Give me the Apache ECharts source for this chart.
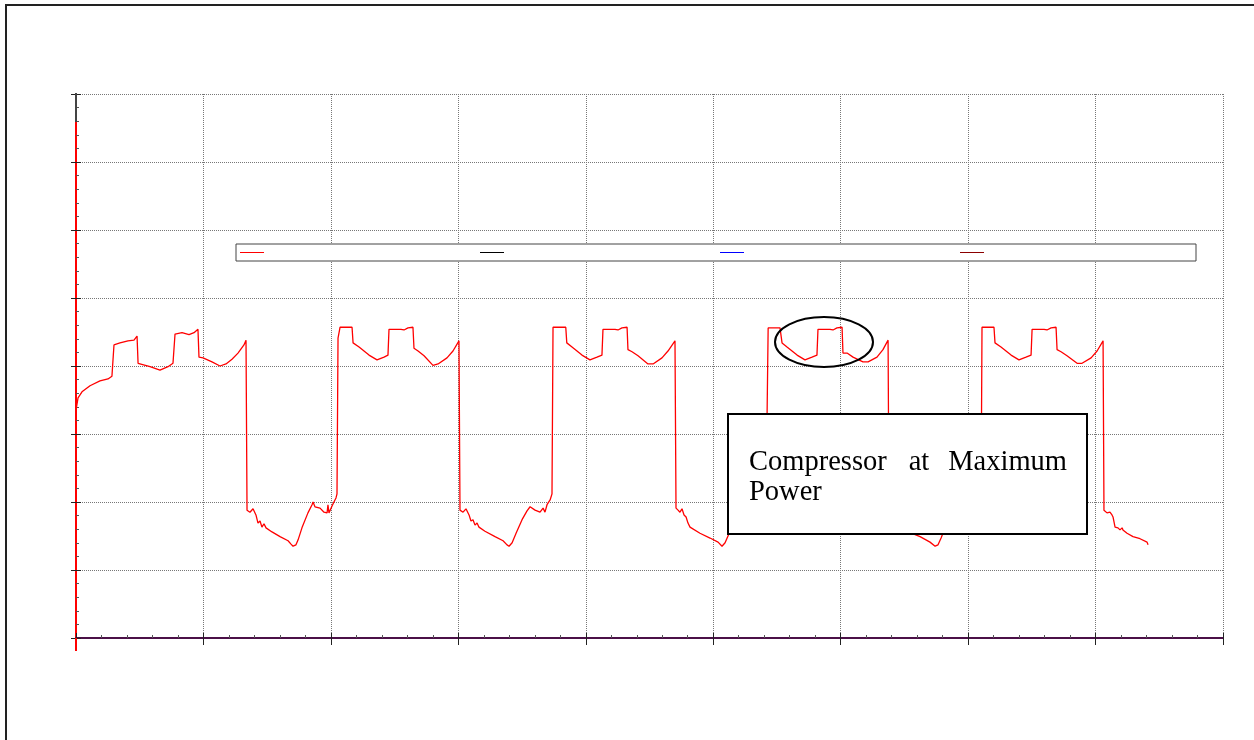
<!DOCTYPE html>
<html>
<head>
<meta charset="utf-8">
<script src="https://cdn.jsdelivr.net/npm/echarts@6/dist/echarts.min.js"></script>
<style>
  html, body { margin: 0; padding: 0; background: #ffffff; }
  #chart { width: 1254px; height: 740px; }
</style>
</head>
<body>
<div id="chart"></div>
<script>
// Compressor power trace: time on x (0-900), power on y (0-80)
const timeValues = [
  0.0, 1.6, 4.7, 11.0, 18.8, 25.1, 28.2, 29.8, 34.5, 40.8, 45.5, 47.9, 48.7, 58.1, 65.9, 72.2, 76.1, 77.7, 83.2, 88.7, 92.6, 95.7, 96.5, 99.7, 106.7, 113.0, 117.7, 122.4, 127.1, 131.8, 133.4, 134.2,
  136.5, 138.9, 141.2, 142.8, 144.4, 145.9, 147.5, 149.1, 153.8, 160.1, 166.4, 168.7, 170.3, 172.6, 174.2, 177.3, 182.0, 185.2, 186.0, 187.5, 191.5, 194.6, 197.0, 197.7, 198.5, 200.9, 202.4, 204.0, 204.8, 205.6, 207.2,
  216.6, 217.4, 222.1, 229.9, 236.2, 241.7, 244.8, 245.6, 255.0, 257.4, 260.5, 264.4, 265.2, 268.4, 273.1, 280.1, 284.1, 291.1, 295.8, 300.5, 301.3,
  303.7, 306.0, 308.4, 309.9, 311.5, 313.1, 314.7, 316.2, 320.9, 328.8, 335.1, 338.2, 339.8, 342.2, 345.3, 350.0, 353.9, 356.3, 360.2, 364.1, 366.5, 368.0, 369.6, 372.0, 373.5, 374.3,
  384.3, 385.1, 389.2, 397.0, 403.3, 408.8, 412.7, 413.5, 422.9, 425.3, 428.4, 432.4, 433.1, 436.3, 441.0, 448.8, 452.8, 459.8, 464.5, 470.0, 470.8,
  472.4, 473.9, 475.5, 477.1, 478.7, 480.2, 481.8, 489.6, 497.5, 503.8, 506.9, 509.3, 511.6, 517.1, 521.0, 525.0, 528.9, 532.8, 536.8, 539.9, 541.5, 543.1,
  552.4, 553.2, 554.0, 557.9, 565.8, 572.0, 577.5, 581.4, 582.2, 591.6, 594.0, 597.1, 601.1, 601.8, 605.0, 609.7, 617.5, 621.5, 628.5, 633.2, 637.2, 637.9,
  640.3, 642.7, 645.0, 646.6, 649.0, 651.3, 656.0, 662.3, 670.1, 674.1, 676.4, 678.8, 682.7, 687.4, 691.3, 695.3, 699.2, 703.1, 706.2, 708.6, 710.2, 710.9,
  720.3, 721.1, 725.8, 733.7, 739.9, 745.4, 749.4, 750.2, 759.6, 761.9, 765.1, 769.0, 769.8, 772.9, 777.6, 785.5, 789.4, 796.5, 801.2, 805.9, 806.6,
  809.0, 811.3, 812.9, 813.7, 815.3, 816.8, 817.6, 819.2, 820.8, 821.5, 824.7, 829.4, 834.9, 840.4, 841.2
];

const powerValues = [
  33.5, 35.3, 36.2, 37.1, 37.8, 38.1, 38.5, 43.1, 43.4, 43.7, 43.8, 44.4, 40.4, 39.9, 39.4, 39.9, 40.4, 44.7, 44.9, 44.6, 44.9, 45.4, 41.3, 41.2, 40.6, 40.0, 40.3, 41.0, 41.9, 43.1, 43.8, 18.8,
  18.5, 19.0, 18.1, 16.9, 17.2, 16.3, 16.8, 16.2, 15.6, 14.9, 14.3, 13.8, 13.5, 13.7, 14.4, 16.2, 18.4, 19.6, 20.0, 19.3, 19.1, 18.5, 18.4, 19.6, 18.4, 19.4, 20.0, 20.6, 21.2, 44.1, 45.7,
  45.7, 43.4, 42.8, 41.6, 40.9, 41.3, 41.6, 45.4, 45.4, 45.3, 45.6, 45.7, 42.6, 42.2, 41.5, 40.1, 40.3, 41.2, 42.2, 43.7, 18.8,
  18.5, 19.0, 18.1, 17.2, 17.4, 16.6, 16.9, 16.3, 15.7, 14.9, 14.3, 13.7, 13.5, 14.0, 15.4, 17.4, 18.7, 19.3, 18.8, 18.5, 19.1, 18.5, 19.6, 20.3, 21.2, 45.7,
  45.7, 43.4, 42.8, 41.6, 40.9, 41.3, 41.6, 45.4, 45.4, 45.3, 45.6, 45.7, 42.4, 42.1, 41.5, 40.3, 40.3, 41.2, 42.2, 43.7, 19.1,
  18.8, 18.5, 19.0, 18.1, 17.8, 16.9, 16.3, 15.4, 14.7, 14.1, 13.5, 14.0, 15.0, 17.4, 18.8, 19.0, 18.5, 19.3, 19.6, 20.6, 21.2, 45.6,
  45.6, 45.7, 43.4, 42.8, 41.6, 40.9, 41.3, 41.6, 45.4, 45.4, 45.3, 45.6, 45.7, 41.9, 41.9, 41.3, 40.6, 40.6, 41.3, 42.4, 43.8, 18.8,
  18.5, 19.0, 18.1, 17.1, 16.6, 16.2, 15.4, 14.9, 14.1, 13.5, 13.7, 14.7, 16.6, 18.4, 19.3, 18.8, 18.5, 19.3, 19.7, 20.6, 21.2, 45.7,
  45.7, 43.4, 42.8, 41.6, 40.9, 41.3, 41.6, 45.4, 45.4, 45.3, 45.6, 45.7, 42.4, 42.1, 41.5, 40.4, 40.4, 41.2, 42.2, 43.7, 18.8,
  18.4, 18.5, 18.1, 17.8, 16.3, 16.3, 16.2, 15.9, 16.2, 15.9, 15.4, 14.9, 14.6, 14.1, 13.7
];

const seriesNames = ['Power', 'Series B', 'Series C', 'Series D'];
const seriesColors = ['#ff0000', '#000000', '#0000ff', '#8b0000'];

const xRange = { min: 0, max: 900, step: 100 };
const yRange = { min: 0, max: 80, step: 10 };

const noteWords = ['Compressor', 'at', 'Maximum'];
const noteLastLine = 'Power';

const chart = echarts.init(document.getElementById('chart'), null, { renderer: 'canvas' });

const gridBox = { left: 76, right: 31, top: 94, bottom: 102 };
const dotted = { color: '#777777', type: 'dotted', width: 1 };

const tracePoints = timeValues.map((t, i) => [t, powerValues[i]]);

const noteFont = '28.5px "Liberation Serif", "Times New Roman", serif';

chart.setOption({
  animation: false,
  backgroundColor: '#ffffff',
  grid: [Object.assign({}, gridBox), Object.assign({}, gridBox)],
  xAxis: [
    {
      gridIndex: 0, type: 'value', min: xRange.min, max: xRange.max, interval: xRange.step,
      axisLine: { show: true, onZero: false, lineStyle: { color: '#4b1047', width: 2 } },
      axisTick: { show: true, inside: true, length: 5, lineStyle: { color: '#222222' } },
      minorTick: { show: true, splitNumber: 5, length: 3, lineStyle: { color: '#555555' } },
      axisLabel: { show: false },
      splitLine: { show: true, lineStyle: dotted }
    },
    {
      gridIndex: 1, type: 'value', min: xRange.min, max: xRange.max, interval: xRange.step,
      axisLine: { show: false },
      axisTick: { show: true, inside: false, length: 7, lineStyle: { color: '#222222' } },
      axisLabel: { show: false },
      splitLine: { show: false }
    }
  ],
  yAxis: [
    {
      gridIndex: 0, type: 'value', min: yRange.min, max: yRange.max, interval: yRange.step,
      axisLine: { show: true, onZero: false, lineStyle: { color: '#ff0000', width: 2 } },
      axisTick: { show: true, inside: true, length: 5, lineStyle: { color: '#222222' } },
      minorTick: { show: true, splitNumber: 5, length: 3, lineStyle: { color: '#555555' } },
      axisLabel: { show: false },
      splitLine: { show: true, lineStyle: dotted }
    },
    {
      gridIndex: 1, type: 'value', min: yRange.min, max: yRange.max, interval: yRange.step,
      axisLine: { show: false },
      axisTick: { show: true, inside: false, length: 5, lineStyle: { color: '#222222' } },
      axisLabel: { show: false },
      splitLine: { show: false }
    }
  ],
  legend: {
    data: seriesNames,
    left: 236, top: 244,
    orient: 'horizontal',
    icon: 'rect',
    itemWidth: 24, itemHeight: 1,
    itemGap: 211,
    padding: [8, 207, 8, 4],
    borderColor: '#444444', borderWidth: 1,
    backgroundColor: '#ffffff',
    formatter: function () { return ''; },
    textStyle: { fontSize: 12, lineHeight: 13 },
    selectedMode: false,
    z: 10
  },
  series: [
    {
      name: seriesNames[0], type: 'line', xAxisIndex: 0, yAxisIndex: 0,
      data: tracePoints, showSymbol: false, symbol: 'none',
      lineStyle: { color: seriesColors[0], width: 1.3 },
      itemStyle: { color: seriesColors[0] },
      z: 3
    },
    { name: seriesNames[1], type: 'line', data: [], itemStyle: { color: seriesColors[1] }, lineStyle: { color: seriesColors[1] } },
    { name: seriesNames[2], type: 'line', data: [], itemStyle: { color: seriesColors[2] }, lineStyle: { color: seriesColors[2] } },
    { name: seriesNames[3], type: 'line', data: [], itemStyle: { color: seriesColors[3] }, lineStyle: { color: seriesColors[3] } }
  ],
  graphic: [
    // page frame
    { type: 'polyline', shape: { points: [[6, 740], [6, 5], [1254, 5]] },
      style: { stroke: '#222222', lineWidth: 2, fill: null }, z: 50 },
    // dark top portion of the vertical axis and its tail below the baseline
    { type: 'line', shape: { x1: 76, y1: 93, x2: 76, y2: 122 },
      style: { stroke: '#444444', lineWidth: 2 }, z: 50 },
    { type: 'line', shape: { x1: 76, y1: 638, x2: 76, y2: 651 },
      style: { stroke: '#ff0000', lineWidth: 2 }, z: 50 },
    // ring around the maximum-power plateau
    { type: 'ellipse', shape: { cx: 824, cy: 342, rx: 49, ry: 25 },
      style: { stroke: '#000000', lineWidth: 2, fill: null }, z: 60 },
    // annotation box
    { type: 'rect', shape: { x: 728, y: 414, width: 359, height: 120 },
      style: { stroke: '#000000', lineWidth: 2, fill: '#ffffff' }, z: 60 },
    { type: 'text', z: 61, style: { text: noteWords[0], x: 749, y: 463, font: noteFont, fill: '#000', textAlign: 'left', textVerticalAlign: 'middle' } },
    { type: 'text', z: 61, style: { text: noteWords[1], x: 919, y: 463, font: noteFont, fill: '#000', textAlign: 'center', textVerticalAlign: 'middle' } },
    { type: 'text', z: 61, style: { text: noteWords[2], x: 1067, y: 463, font: noteFont, fill: '#000', textAlign: 'right', textVerticalAlign: 'middle' } },
    { type: 'text', z: 61, style: { text: noteLastLine, x: 749, y: 493, font: noteFont, fill: '#000', textAlign: 'left', textVerticalAlign: 'middle' } }
  ]
});
</script>
</body>
</html>
